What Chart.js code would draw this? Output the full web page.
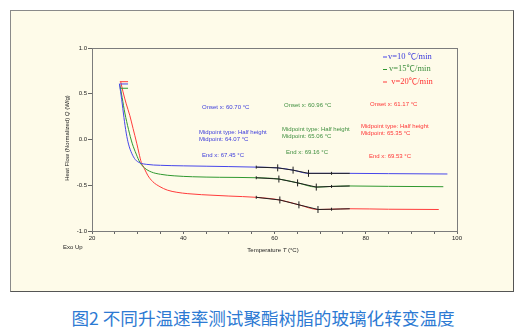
<!DOCTYPE html>
<html>
<head>
<meta charset="utf-8">
<script src="https://cdn.jsdelivr.net/npm/chart.js@4"></script>
<style>
    body { margin: 0; background: #fff; width: 526px; height: 332px; position: relative; overflow: hidden; }
    #frame { position: absolute; left: 10px; top: 10px; width: 502px; height: 280px; border: 1px solid; border-color: #8a8a8a #555 #555 #8a8a8a; background: #fefbe9; }
    #frame canvas { position: absolute; left: 0; top: 0; }
    #caption { position: absolute; left: 0; width: 526px; top: 307px; text-align: center; font: 17.6px "Noto Sans CJK SC", sans-serif; line-height: 22px; color: #2d7ad3; }
</style>
</head>
<body>
<div id="frame"><canvas id="dscChart" width="502" height="280"></canvas></div>
<div id="caption">图2 不同升温速率测试聚酯树脂的玻璃化转变温度</div>
<script>
console.log("DSC");

// temperature (°C) / heat flow (W/g) for each heating rate
const tempV10 = [26.0, 26.5, 27.0, 27.5, 28.0, 28.7, 29.5, 30.5, 32, 35, 40, 45, 50, 56, 60.7, 64.07, 67.45, 72.5, 76.5, 85, 97.9];
const flowV10 = [0.61, 0.44, 0.24, 0.07, -0.05, -0.15, -0.22, -0.255, -0.272, -0.282, -0.288, -0.292, -0.296, -0.302, -0.31, -0.335, -0.37, -0.37, -0.37, -0.373, -0.377];

const tempV15 = [26.1, 26.6, 27.2, 28.0, 28.8, 29.7, 30.5, 31.5, 33, 35, 38, 42, 48, 56, 60.96, 65.06, 69.16, 72.5, 76.5, 85, 97.0];
const flowV15 = [0.60, 0.46, 0.29, 0.11, -0.04, -0.16, -0.25, -0.31, -0.355, -0.38, -0.397, -0.407, -0.413, -0.418, -0.432, -0.474, -0.52, -0.513, -0.508, -0.512, -0.516];

const tempV20 = [26.3, 26.8, 27.5, 28.3, 29.0, 29.8, 30.3, 30.8, 31.5, 32.2, 33.3, 34.9, 36.5, 38.6, 41, 44, 50, 56, 61.17, 65.35, 69.53, 72.5, 76.5, 85, 96.0];
const flowV20 = [0.63, 0.52, 0.39, 0.26, 0.12, -0.04, -0.15, -0.25, -0.32, -0.39, -0.46, -0.516, -0.553, -0.577, -0.592, -0.603, -0.618, -0.632, -0.661, -0.714, -0.765, -0.762, -0.757, -0.762, -0.765];

// analysed region: start, onset, midpoint, end, limit, stop
const tgTemps = [
    [56, 60.70, 64.07, 67.45, 72.5, 76.5],
    [56, 60.96, 65.06, 69.16, 72.5, 76.5],
    [56, 61.17, 65.35, 69.53, 72.5, 76.5],
];
const tgFlows = [
    [-0.302, -0.31, -0.335, -0.37, -0.37, -0.37],
    [-0.418, -0.432, -0.474, -0.52, -0.513, -0.508],
    [-0.632, -0.661, -0.714, -0.765, -0.762, -0.757],
];
const tgTickSize = [1.5, 3.5, 3.5, 3.5, 1.5, 0];

// short flags at the start of each run
const flagTemps = [26.1, 27.9];
const flagFlows = [0.607, 0.56, 0.632];

const rateLabels = ["v=10 ℃/min", "v=15℃/min", " v=20℃/min"];
const rateColors = ["#4646ea", "#2f982f", "#ff3b3b"];
const textColors = ["#3c3cdc", "#3f8f3f", "#ff3535"];

const onsetText = ["Onset x: 60.70 °C", "Onset x: 60.96 °C", "Onset x: 61.17 °C"];
const midText = ["Midpoint: 64.07 °C", "Midpoint: 65.06 °C", "Midpoint: 65.35 °C"];
const endText = ["End x: 67.45 °C", "End x: 69.16 °C", "End x: 69.53 °C"];

const xTicks = [20, 40, 60, 80, 100];
const yTicks = [-1.0, -0.5, 0.0, 0.5, 1.0];

function toPoints(xs, ys) {
    return xs.map((x, i) => ({ x, y: ys[i] }));
}

const curves = [[tempV10, flowV10], [tempV15, flowV15], [tempV20, flowV20]];
const datasets = [];

curves.forEach(([xs, ys], i) => {
    datasets.push({
        data: toPoints(xs, ys),
        borderColor: rateColors[i],
        borderWidth: 1,
        pointRadius: 0,
        cubicInterpolationMode: "monotone",
        order: 2,
    });
    datasets.push({
        data: flagTemps.map((x) => ({ x, y: flagFlows[i] })),
        borderColor: rateColors[i],
        borderWidth: 1,
        pointRadius: 0,
        order: 2,
    });
});

tgTemps.forEach((xs, i) => {
    datasets.push({
        data: toPoints(xs, tgFlows[i]),
        borderColor: "#202020",
        borderWidth: 1,
        pointStyle: "line",
        rotation: 90,
        pointRadius: tgTickSize,
        pointBorderColor: "#202020",
        pointBorderWidth: 1,
        order: 0,
    });
});

/** Labels, legend and plot box drawn over the chart */
const notesPlugin = {
    id: "notes",
    afterDraw(chart) {
        const ctx = chart.ctx;
        const area = chart.chartArea;
        ctx.save();

        ctx.strokeStyle = "#7c7c7c";
        ctx.lineWidth = 1;
        ctx.strokeRect(area.left + 0.5, area.top + 0.5, area.width, area.height);

        ctx.textBaseline = "middle";
        ctx.textAlign = "left";

        // Tg readouts for each run
        const notePos = [
            { onset: [191, 96], mid: [188, 121.5], end: [191, 144.5] },
            { onset: [273, 94.5], mid: [271, 118.5], end: [275, 141.5] },
            { onset: [359, 93.5], mid: [350, 115.5], end: [358, 145.5] },
        ];
        ctx.font = "6px 'Liberation Sans', Arial, sans-serif";
        notePos.forEach((p, i) => {
            ctx.fillStyle = textColors[i];
            ctx.fillText(onsetText[i], p.onset[0], p.onset[1]);
            ctx.fillText("Midpoint type: Half height", p.mid[0], p.mid[1]);
            ctx.fillText(midText[i], p.mid[0], p.mid[1] + 6.5);
            ctx.fillText(endText[i], p.end[0], p.end[1]);
        });

        // legend
        const legendY = [45.5, 58, 70.5];
        const legendX = [377, 378, 378];
        ctx.font = "8.5px 'Liberation Serif', 'Noto Sans CJK SC', serif";
        rateLabels.forEach((label, i) => {
            ctx.strokeStyle = rateColors[i];
            ctx.beginPath();
            ctx.moveTo(372, legendY[i] + 0.5);
            ctx.lineTo(376, legendY[i] + 0.5);
            ctx.stroke();
            ctx.fillStyle = textColors[i];
            ctx.fillText(label, legendX[i], legendY[i]);
        });

        // axis titles
        ctx.fillStyle = "#222";
        ctx.font = "6px 'Liberation Sans', Arial, sans-serif";
        ctx.fillText("Exo Up", 52, 236.5);
        drawTitle(ctx, ["Temperature ", "T", " (°C)"], 262, 239, 0);
        drawTitle(ctx, ["Heat Flow (Normalized) ", "Q", " (W/g)"], 56, 127, -Math.PI / 2);

        ctx.restore();
    },
};

/** Axis title with an italic symbol in the middle */
function drawTitle(ctx, parts, cx, cy, angle) {
    const plain = "6px 'Liberation Sans', Arial, sans-serif";
    const italic = "italic 6px 'Liberation Sans', Arial, sans-serif";
    const fonts = [plain, italic, plain];
    const widths = parts.map((p, i) => {
        ctx.font = fonts[i];
        return ctx.measureText(p).width;
    });
    const total = widths.reduce((a, b) => a + b, 0);
    ctx.save();
    ctx.translate(cx, cy);
    ctx.rotate(angle);
    let x = -total / 2;
    parts.forEach((p, i) => {
        ctx.font = fonts[i];
        ctx.fillText(p, x, 0);
        x += widths[i];
    });
    ctx.restore();
}

const ctx = document.getElementById("dscChart").getContext("2d");
const tickFont = { family: "'Liberation Sans', Arial, sans-serif", size: 6 };

window.dscChart = new Chart(ctx, {
    type: "line",
    data: { datasets },
    options: {
        responsive: false,
        animation: false,
        parsing: true,
        layout: { padding: { left: 61, top: 37, right: 56, bottom: 40 } },
        plugins: {
            legend: { display: false },
            tooltip: { enabled: false },
        },
        scales: {
            x: {
                type: "linear",
                min: 20,
                max: 100,
                afterFit: (scale) => { scale.height = 20; },
                ticks: {
                    stepSize: 5,
                    autoSkip: false,
                    maxRotation: 0,
                    padding: 1,
                    color: "#222",
                    font: tickFont,
                    callback: (v) => (xTicks.includes(v) ? v : ""),
                },
                grid: { drawOnChartArea: false, tickLength: 3, color: "#666" },
                border: { color: "#7c7c7c" },
            },
            y: {
                min: -1,
                max: 1,
                afterFit: (scale) => { scale.width = 20; },
                ticks: {
                    stepSize: 0.5,
                    padding: 1,
                    color: "#222",
                    font: tickFont,
                    callback: (v) => (yTicks.includes(v) ? v.toFixed(1) : ""),
                },
                grid: { drawOnChartArea: false, tickLength: 4, color: "#666" },
                border: { color: "#7c7c7c" },
            },
        },
    },
    plugins: [notesPlugin],
});
</script>
</body>
</html>
